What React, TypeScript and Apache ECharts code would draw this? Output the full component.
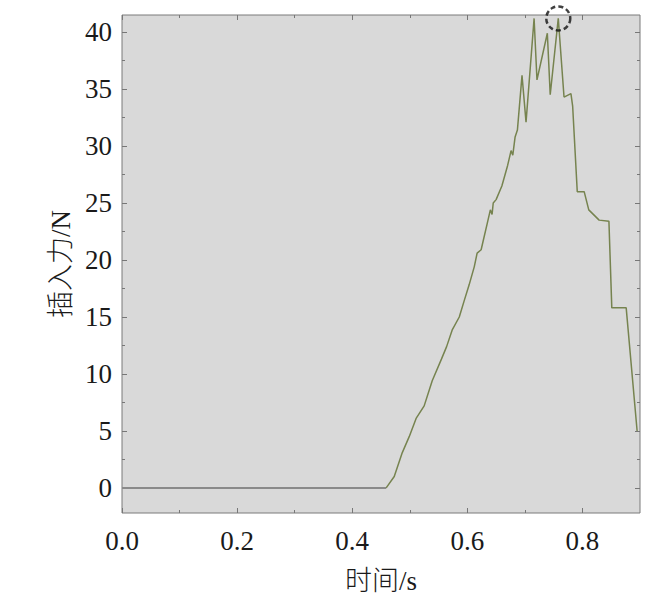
import React, { useEffect, useRef } from "react";
import * as echarts from "echarts";

// Time (s) and insertion force (N)
const TIME = [
  0, 0.459, 0.473, 0.487, 0.499, 0.511, 0.525, 0.539, 0.555, 0.564, 0.574, 0.586,
  0.595, 0.603, 0.612, 0.617, 0.624, 0.629, 0.635, 0.64, 0.643, 0.645, 0.65, 0.66,
  0.67, 0.676, 0.679, 0.683, 0.687, 0.695, 0.702, 0.716, 0.721, 0.739, 0.744, 0.758,
  0.768, 0.78, 0.783, 0.791, 0.803, 0.811, 0.829, 0.846, 0.851, 0.876, 0.895,
];
const FORCE = [
  0, 0, 1.0, 3.1, 4.5, 6.1, 7.2, 9.4, 11.3, 12.4, 13.9, 15.0,
  16.5, 17.8, 19.4, 20.6, 20.9, 22.0, 23.3, 24.4, 24.0, 25.0, 25.3, 26.5,
  28.3, 29.6, 29.2, 30.8, 31.4, 36.2, 32.1, 41.2, 35.8, 39.9, 34.5, 41.2,
  34.3, 34.6, 33.5, 26.0, 26.0, 24.4, 23.5, 23.4, 15.8, 15.8, 5.0,
];
// Index where the flat (no contact) part ends and the insertion begins
const CONTACT_INDEX = 1;
// Highlighted peak
const PEAK = [0.758, 41.2];

const X_TICKS = [0, 0.2, 0.4, 0.6, 0.8];
const X_MINOR = [0.1, 0.3, 0.5, 0.7];
const Y_TICKS = [0, 5, 10, 15, 20, 25, 30, 35, 40];
const Y_MINOR = [2.5, 7.5, 12.5, 17.5, 22.5, 27.5, 32.5, 37.5];

const X_MIN = 0;
const X_MAX = 0.9;
const Y_MIN = -2.2;
const Y_MAX = 41.5;

const SERIF = "'Liberation Serif', 'Times New Roman', 'Noto Sans CJK SC', serif";
const TICK_COLOR = "#777";

function xAxis(position: string, values: number[], len: number, labels: boolean) {
  return {
    type: "value",
    position,
    min: X_MIN,
    max: X_MAX,
    axisLine: { show: false, onZero: false },
    splitLine: { show: false },
    axisTick: {
      show: true,
      inside: true,
      length: len,
      customValues: values,
      lineStyle: { color: TICK_COLOR, width: 1 },
    },
    axisLabel: labels
      ? {
          show: true,
          customValues: X_TICKS,
          margin: 14,
          fontSize: 27,
          fontFamily: SERIF,
          color: "#1a1a1a",
          formatter: (v: number) => v.toFixed(1),
        }
      : { show: false },
  } as any;
}

function yAxis(position: string, values: number[], len: number, labels: boolean) {
  return {
    type: "value",
    position,
    min: Y_MIN,
    max: Y_MAX,
    axisLine: { show: false, onZero: false },
    splitLine: { show: false },
    axisTick: {
      show: true,
      inside: true,
      length: len,
      customValues: values,
      lineStyle: { color: TICK_COLOR, width: 1 },
    },
    axisLabel: labels
      ? {
          show: true,
          customValues: Y_TICKS,
          margin: 10,
          fontSize: 27,
          fontFamily: SERIF,
          color: "#1a1a1a",
          formatter: (v: number) => String(v),
        }
      : { show: false },
  } as any;
}

export default function App() {
  const ref = useRef<HTMLDivElement>(null);

  useEffect(() => {
    document.body.style.margin = "0";
    if (!ref.current) return;
    const chart = echarts.init(ref.current, null, { renderer: "svg" });

    const data = TIME.map((t, i) => [t, FORCE[i]]);
    const flat = data.slice(0, CONTACT_INDEX + 1);
    const rise = data.slice(CONTACT_INDEX);

    const xs = [
      xAxis("bottom", X_TICKS, 5, true),
      xAxis("top", X_TICKS, 5, false),
      xAxis("bottom", X_MINOR, 3, false),
      xAxis("top", X_MINOR, 3, false),
    ];
    xs[0].name = "时间/s";
    xs[0].nameLocation = "middle";
    xs[0].nameGap = 54;
    xs[0].nameTextStyle = { fontSize: 27, fontFamily: SERIF, fontWeight: 300, color: "#1a1a1a" };

    const ys = [
      yAxis("left", Y_TICKS, 5, true),
      yAxis("right", Y_TICKS, 5, false),
      yAxis("left", Y_MINOR, 3, false),
      yAxis("right", Y_MINOR, 3, false),
    ];
    ys[0].name = "插入力/N";
    ys[0].nameLocation = "middle";
    ys[0].nameGap = 44;
    ys[0].nameRotate = 90;
    ys[0].nameTextStyle = { fontSize: 27, fontFamily: SERIF, fontWeight: 300, color: "#1a1a1a" };

    chart.setOption({
      animation: false,
      backgroundColor: "#ffffff",
      grid: {
        left: 122,
        right: 10,
        top: 15,
        bottom: 93,
        show: true,
        backgroundColor: "#d9d9d9",
        borderColor: "#7a7a7a",
        borderWidth: 1,
      },
      xAxis: xs,
      yAxis: ys,
      series: [
        {
          type: "line",
          xAxisIndex: 0,
          yAxisIndex: 0,
          data: flat,
          showSymbol: false,
          symbol: "none",
          lineStyle: { color: "#8a8a8a", width: 2 },
          z: 3,
        },
        {
          type: "line",
          xAxisIndex: 0,
          yAxisIndex: 0,
          data: rise,
          showSymbol: false,
          symbol: "none",
          lineStyle: { color: "#76834f", width: 1.5 },
          z: 3,
        },
        {
          type: "scatter",
          xAxisIndex: 0,
          yAxisIndex: 0,
          data: [PEAK],
          symbol: "circle",
          symbolSize: 24,
          clip: false,
          itemStyle: {
            color: "rgba(0,0,0,0)",
            borderColor: "#111",
            borderWidth: 2.5,
            borderType: [5, 3],
          },
          z: 4,
        },
      ],
    });

    return () => chart.dispose();
  }, []);

  return <div ref={ref} style={{ width: 650, height: 606 }} />;
}
